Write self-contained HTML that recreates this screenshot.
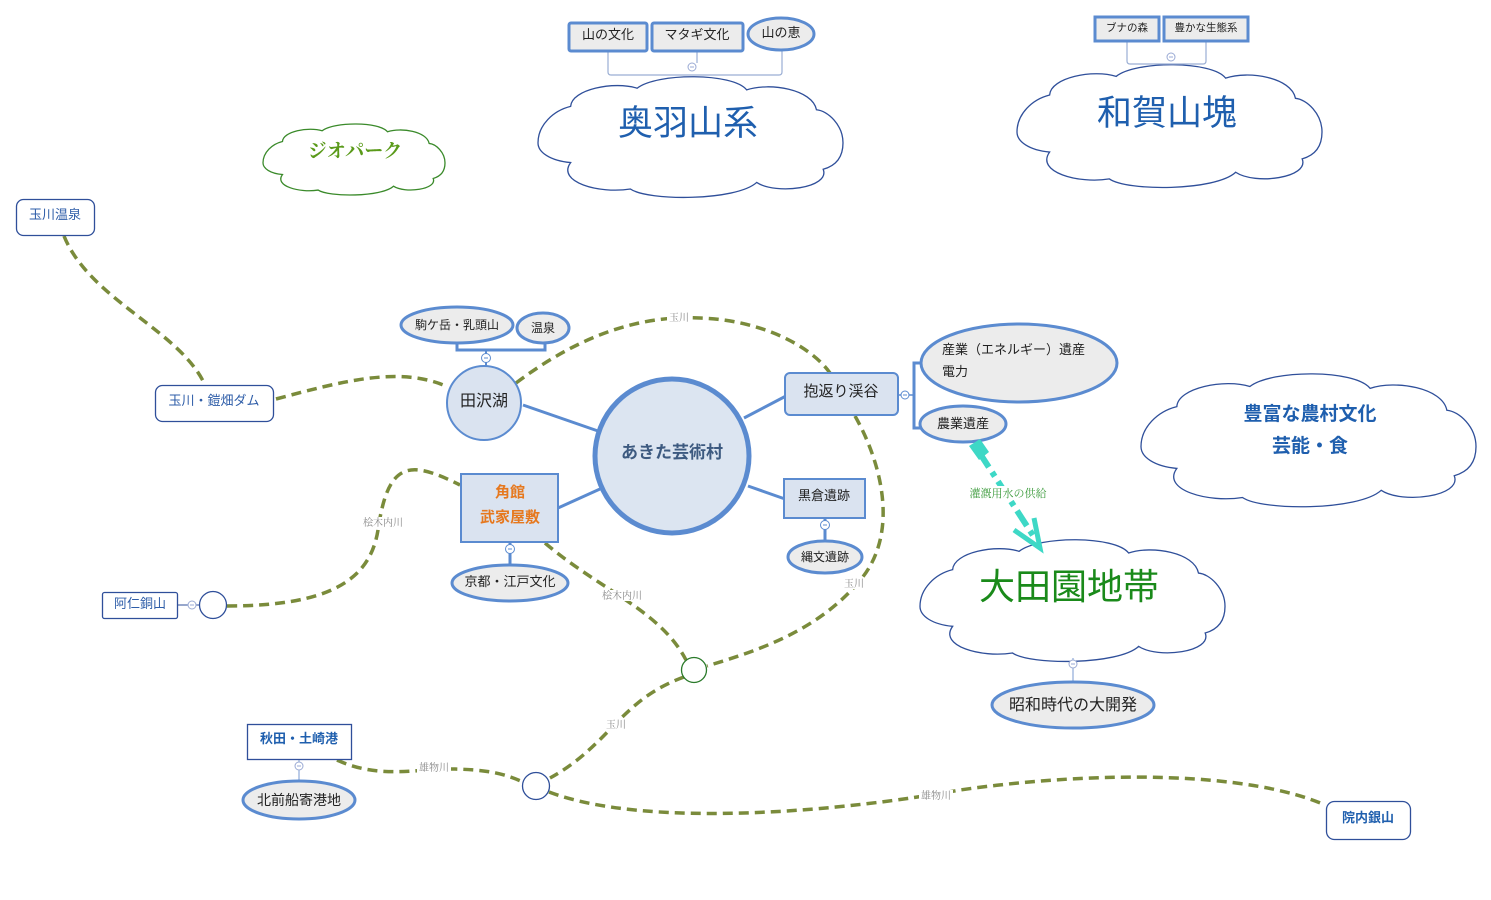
<!DOCTYPE html>
<html><head><meta charset="utf-8"><style>
html,body{margin:0;padding:0;background:#fff;}
svg{display:block;font-family:"Liberation Sans","Noto Sans CJK JP",sans-serif;}
.cl{fill:#fff;stroke:#2f4f9a;stroke-width:1.3;}
.rv{fill:none;stroke:#7a8b3b;stroke-width:3.5;stroke-dasharray:10 6;}
.bl{fill:none;stroke:#5b8bd0;stroke-width:3;}
.gr{fill:#ececec;stroke:#5b8bd0;stroke-width:3;}
.lb{fill:#dae3f0;stroke:#5b8bd0;stroke-width:2;}
.wt{fill:#fff;stroke:#2f4f9a;stroke-width:1.3;}
.t{fill:#222;text-anchor:middle;}
.rl{font-family:"Liberation Serif","Noto Serif CJK JP",serif;font-size:10px;fill:#888;text-anchor:middle;}
.mn{fill:#fff;stroke:#9aaad4;stroke-width:1;}
</style></head><body>
<svg width="1491" height="900" viewBox="0 0 1491 900" xmlns="http://www.w3.org/2000/svg">

<!-- clouds -->
<g transform="translate(538,75) scale(0.305,0.119)"><path class="cl" vector-effect="non-scaling-stroke" d="M0,570 C0,420 50,300 107,264 C110,120 250,50 325,111 C390,-20 640,-20 684,125 C760,60 900,120 913,292 C950,300 1000,420 1000,570 C1000,680 980,760 935,792 C960,950 780,1010 717,903 C650,1060 360,1060 303,958 C200,1000 60,900 107,736 C40,720 0,650 0,570 Z"/></g>
<g transform="translate(1017,63) scale(0.305,0.121)"><path class="cl" vector-effect="non-scaling-stroke" d="M0,570 C0,420 50,300 107,264 C110,120 250,50 325,111 C390,-20 640,-20 684,125 C760,60 900,120 913,292 C950,300 1000,420 1000,570 C1000,680 980,760 935,792 C960,950 780,1010 717,903 C650,1060 360,1060 303,958 C200,1000 60,900 107,736 C40,720 0,650 0,570 Z"/></g>
<g transform="translate(263,123) scale(0.182,0.070)"><path class="cl" style="stroke:#3a8a2a" vector-effect="non-scaling-stroke" d="M0,570 C0,420 50,300 107,264 C110,120 250,50 325,111 C390,-20 640,-20 684,125 C760,60 900,120 913,292 C950,300 1000,420 1000,570 C1000,680 980,760 935,792 C960,950 780,1010 717,903 C650,1060 360,1060 303,958 C200,1000 60,900 107,736 C40,720 0,650 0,570 Z"/></g>
<g transform="translate(1141,372) scale(0.335,0.131)"><path class="cl" vector-effect="non-scaling-stroke" d="M0,570 C0,420 50,300 107,264 C110,120 250,50 325,111 C390,-20 640,-20 684,125 C760,60 900,120 913,292 C950,300 1000,420 1000,570 C1000,680 980,760 935,792 C960,950 780,1010 717,903 C650,1060 360,1060 303,958 C200,1000 60,900 107,736 C40,720 0,650 0,570 Z"/></g>
<g transform="translate(920,538) scale(0.305,0.120)"><path class="cl" vector-effect="non-scaling-stroke" d="M0,570 C0,420 50,300 107,264 C110,120 250,50 325,111 C390,-20 640,-20 684,125 C760,60 900,120 913,292 C950,300 1000,420 1000,570 C1000,680 980,760 935,792 C960,950 780,1010 717,903 C650,1060 360,1060 303,958 C200,1000 60,900 107,736 C40,720 0,650 0,570 Z"/></g>

<!-- 奥羽山系 -->
<path d="M608,51 V72 Q608,75 611,75 H779 Q782,75 782,72 V50" fill="none" stroke="#9aaed4" stroke-width="1.2"/>
<line x1="697" y1="51" x2="697" y2="63" stroke="#9aaed4" stroke-width="1.2"/>
<circle cx="692" cy="67" r="4" class="mn"/><line x1="690" y1="67" x2="694" y2="67" stroke="#9aaad4"/>
<rect x="569" y="23" width="78" height="28" rx="2" class="gr"/>
<text x="608" y="39" class="t" font-size="13">山の文化</text>
<rect x="652" y="23" width="91" height="28" rx="2" class="gr"/>
<text x="697" y="39" class="t" font-size="13">マタギ文化</text>
<ellipse cx="781" cy="34" rx="33" ry="16" class="gr"/>
<text x="781" y="37" class="t" font-size="13">山の恵</text>
<text x="688" y="135" text-anchor="middle" font-size="35" fill="#1f5fae">奥羽山系</text>

<!-- 和賀山塊 -->
<path d="M1127,41 V61 Q1127,64 1130,64 H1203 Q1206,64 1206,61 V41" fill="none" stroke="#9aaed4" stroke-width="1.2"/>
<circle cx="1171" cy="57" r="4" class="mn"/><line x1="1169" y1="57" x2="1173" y2="57" stroke="#9aaad4"/>
<rect x="1095" y="17" width="64" height="24" class="gr"/>
<text x="1127" y="31" class="t" font-size="10.5">ブナの森</text>
<rect x="1164" y="17" width="84" height="24" class="gr"/>
<text x="1206" y="31" class="t" font-size="10.5">豊かな生態系</text>
<text x="1167" y="125" text-anchor="middle" font-size="35" fill="#1f5fae">和賀山塊</text>

<!-- ジオパーク -->
<text x="355" y="157" text-anchor="middle" font-size="19" font-weight="bold" fill="#5a9a1a" font-family="'Liberation Serif','Noto Serif CJK JP',serif">ジオパーク</text>

<!-- 豊富な農村文化 -->
<text x="1310" y="420" text-anchor="middle" font-size="19" font-weight="bold" fill="#1f5fae">豊富な農村文化</text>
<text x="1310" y="452" text-anchor="middle" font-size="19" font-weight="bold" fill="#1f5fae">芸能・食</text>

<!-- rivers -->
<path class="rv" d="M64,236 C90,300 180,330 205,385"/>
<path class="rv" d="M276,399 C340,382 400,365 448,387"/>
<path class="rv" d="M516,383 C580,335 640,315 700,318 C760,320 810,345 830,373"/>
<path class="rv" d="M855,416 C880,460 900,530 862,578 C820,630 760,650 707,666"/>
<path class="rv" d="M227,606 C330,606 370,580 378,530 C388,460 410,460 460,485"/>
<path class="rv" d="M545,543 C600,590 660,610 686,660"/>
<path class="rv" d="M684,677 C620,700 610,745 550,778"/>
<path class="rv" d="M337,760 C380,780 420,768 455,769 C490,770 505,774 523,782"/>
<path class="rv" d="M549,792 C650,830 850,810 960,790 C1100,770 1250,772 1325,805"/>
<!-- river labels -->
<rect x="667" y="312" width="24" height="11" fill="#fff"/><text x="679" y="321" class="rl">玉川</text>
<rect x="842" y="578" width="24" height="11" fill="#fff"/><text x="854" y="587" class="rl">玉川</text>
<rect x="604" y="719" width="24" height="11" fill="#fff"/><text x="616" y="728" class="rl">玉川</text>
<rect x="362" y="517" width="42" height="11" fill="#fff"/><text x="383" y="526" class="rl">桧木内川</text>
<rect x="601" y="590" width="42" height="11" fill="#fff"/><text x="622" y="599" class="rl">桧木内川</text>
<rect x="417" y="762" width="34" height="11" fill="#fff"/><text x="434" y="771" class="rl">雄物川</text>
<rect x="919" y="790" width="34" height="11" fill="#fff"/><text x="936" y="799" class="rl">雄物川</text>

<!-- left nodes -->
<rect x="16.5" y="199.5" width="78" height="36" rx="7" class="wt"/>
<text x="55" y="219" text-anchor="middle" font-size="13" fill="#2e5da8">玉川温泉</text>
<rect x="155.5" y="385.5" width="118" height="36" rx="7" class="wt"/>
<text x="214" y="405" text-anchor="middle" font-size="13" fill="#2e5da8">玉川・鎧畑ダム</text>
<rect x="102.5" y="592.5" width="75" height="26" rx="2" class="wt"/>
<text x="140" y="608" text-anchor="middle" font-size="13" fill="#2e5da8">阿仁銅山</text>
<line x1="178" y1="605" x2="200" y2="605" stroke="#2f4f9a" stroke-width="1"/>
<circle cx="192" cy="605" r="4" class="mn"/><line x1="190" y1="605" x2="194" y2="605" stroke="#9aaad4"/>
<circle cx="213" cy="605" r="13.5" class="wt"/>

<rect x="247.5" y="724.5" width="104" height="35" class="wt"/>
<text x="299" y="743" text-anchor="middle" font-size="13" font-weight="bold" fill="#1f5fae">秋田・土崎港</text>
<line x1="299" y1="760" x2="299" y2="782" stroke="#7a9ad0" stroke-width="1"/>
<circle cx="299" cy="766" r="4" class="mn"/><line x1="297" y1="766" x2="301" y2="766" stroke="#9aaad4"/>
<ellipse cx="299" cy="800" rx="56" ry="19" class="gr"/>
<text x="299" y="805" class="t" font-size="14">北前船寄港地</text>
<circle cx="536" cy="786" r="13.5" class="wt"/>
<circle cx="694" cy="670" r="12.5" fill="#fff" stroke="#2a7a2a" stroke-width="1.3"/>

<rect x="1326.5" y="801.5" width="84" height="38" rx="8" class="wt"/>
<text x="1368" y="822" text-anchor="middle" font-size="13" font-weight="bold" fill="#1f5fae">院内銀山</text>

<!-- center connectors -->
<line x1="523" y1="405" x2="598" y2="431" stroke="#5b8bd0" stroke-width="3"/>
<line x1="558" y1="508" x2="600" y2="489" stroke="#5b8bd0" stroke-width="3"/>
<line x1="744" y1="418" x2="786" y2="396" stroke="#5b8bd0" stroke-width="3"/>
<line x1="748" y1="486" x2="785" y2="499" stroke="#5b8bd0" stroke-width="3"/>

<!-- 田沢湖 -->
<path class="bl" d="M457,344 V350 H545 V344"/>
<line x1="486" y1="350" x2="486" y2="366" stroke="#5b8bd0" stroke-width="2"/>
<circle cx="486" cy="358" r="4.5" class="mn" style="stroke:#5b8bd0"/><line x1="484" y1="358" x2="488" y2="358" stroke="#5b8bd0"/>
<ellipse cx="457" cy="325" rx="56" ry="18" class="gr"/>
<text x="457" y="329" class="t" font-size="12">駒ケ岳・乳頭山</text>
<ellipse cx="543" cy="328" rx="26" ry="15" class="gr"/>
<text x="543" y="332" class="t" font-size="12">温泉</text>
<circle cx="484" cy="403" r="37" class="lb"/>
<text x="484" y="406" class="t" font-size="16" fill="#333">田沢湖</text>

<!-- center -->
<circle cx="672" cy="456" r="77" fill="#dce5f1" stroke="#5b8bd0" stroke-width="5"/>
<text x="672" y="458" text-anchor="middle" font-size="17" font-weight="bold" fill="#3d5a80">あきた芸術村</text>

<!-- 角館 -->
<rect x="461" y="474" width="97" height="68" class="lb"/>
<text x="510" y="497" text-anchor="middle" font-size="15" font-weight="bold" fill="#e6781e">角館</text>
<text x="510" y="522" text-anchor="middle" font-size="15" font-weight="bold" fill="#e6781e">武家屋敷</text>
<line x1="510" y1="542" x2="510" y2="565" stroke="#5b8bd0" stroke-width="3"/>
<circle cx="510" cy="549" r="4.5" class="mn" style="stroke:#5b8bd0"/><line x1="508" y1="549" x2="512" y2="549" stroke="#5b8bd0"/>
<ellipse cx="510" cy="583" rx="58" ry="18" class="gr"/>
<text x="510" y="586" class="t" font-size="13">京都・江戸文化</text>

<!-- 抱返り渓谷 -->
<rect x="785" y="373" width="113" height="42" rx="5" class="lb"/>
<text x="841" y="396" class="t" font-size="15" fill="#333">抱返り渓谷</text>
<line x1="898" y1="395" x2="913" y2="395" stroke="#5b8bd0" stroke-width="1.5"/>
<circle cx="905" cy="395" r="4" class="mn" style="stroke:#5b8bd0"/><line x1="903" y1="395" x2="907" y2="395" stroke="#5b8bd0"/>
<path class="bl" d="M922,363 H914 V428 H922"/>
<ellipse cx="1019" cy="363" rx="98" ry="39" class="gr"/>
<text x="942" y="354" font-size="13" fill="#222">産業（エネルギー）遺産</text>
<text x="942" y="376" font-size="13" fill="#222">電力</text>
<ellipse cx="963" cy="424" rx="43" ry="18" class="gr"/>
<text x="963" y="428" class="t" font-size="13">農業遺産</text>

<!-- 黒倉遺跡 -->
<rect x="784" y="479" width="81" height="39" class="lb"/>
<text x="824" y="500" class="t" font-size="13" fill="#333">黒倉遺跡</text>
<line x1="825" y1="518" x2="825" y2="541" stroke="#5b8bd0" stroke-width="3"/>
<circle cx="825" cy="525" r="4.5" class="mn" style="stroke:#5b8bd0"/><line x1="823" y1="525" x2="827" y2="525" stroke="#5b8bd0"/>
<ellipse cx="825" cy="557" rx="37" ry="16" class="gr"/>
<text x="825" y="561" class="t" font-size="12">縄文遺跡</text>

<!-- cyan arrow -->
<path d="M979,452 L1036,540" stroke="#3ed8c6" stroke-width="6" fill="none" stroke-dasharray="18 6 5 6"/>
<polygon points="969,446 980,439 989,452 979,460" fill="#3ed8c6"/>
<path d="M1014,530 L1040,548 L1034,518" fill="none" stroke="#3ed8c6" stroke-width="5" stroke-linejoin="miter"/>
<rect x="964" y="486" width="88" height="14" fill="#fff"/>
<text x="1008" y="497" text-anchor="middle" font-size="11" fill="#3a9a3a" font-family="'Liberation Serif','Noto Serif CJK JP',serif">灌漑用水の供給</text>

<!-- 大田園地帯 -->
<text x="1069" y="599" text-anchor="middle" font-size="36" fill="#1a8a1a">大田園地帯</text>
<line x1="1073" y1="658" x2="1073" y2="682" stroke="#7a9ad0" stroke-width="1"/>
<circle cx="1073" cy="664" r="4" class="mn"/><line x1="1071" y1="664" x2="1075" y2="664" stroke="#9aaad4"/>
<ellipse cx="1073" cy="705" rx="81" ry="23" class="gr"/>
<text x="1073" y="710" class="t" font-size="16">昭和時代の大開発</text>
</svg>
</body></html>
